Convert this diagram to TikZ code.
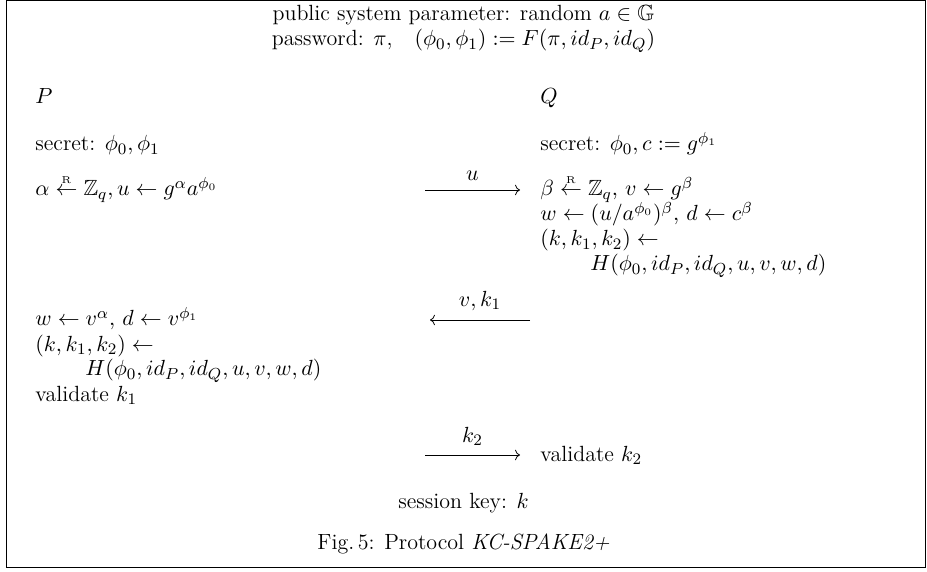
\documentclass[tikz,border=0pt]{standalone}
\usepackage{amsmath,amssymb}
\usepackage{tikz}
\usetikzlibrary{arrows.meta}
\newcommand{\sampleR}{\mathrel{\overset{\scriptscriptstyle\mathrm{R}}{\leftarrow}}}

\begin{document}
\begin{tikzpicture}[x=1pt,y=-1pt,>=To,font=\fontsize{11}{13}\selectfont,
  ln/.style={anchor=base west,inner sep=0pt},
  ctr/.style={anchor=base,inner sep=0pt},
  msg/.style={->,line width=0.4pt}]
\useasboundingbox (0,0) rectangle (463.5,286);
\draw[line width=0.5pt] (3.25,0.25) rectangle (462.5,283.5);
% header
\node[ctr] (pub) at (231.75,10.5) {public system parameter: random $a\in\mathbb{G}$};
\node[ctr] (pw) at (231.75,23) {password: $\pi$,\quad $(\phi_0,\phi_1) := F(\pi, id_P, id_Q)$};
% parties
\node[ln] (P) at (17.5,52) {$P$};
\node[ln] (Q) at (270,52) {$Q$};
\node[ln] (secP) at (17.5,75.5) {secret: $\phi_0,\phi_1$};
\node[ln] (secQ) at (270,75.5) {secret: $\phi_0, c := g^{\phi_1}$};
\node[ln] (p1) at (17.5,98) {$\alpha \sampleR \mathbb{Z}_q, u \leftarrow g^{\alpha}a^{\phi_0}$};
\node[ln] (q1) at (270,98) {$\beta \sampleR \mathbb{Z}_q,\, v \leftarrow g^{\beta}$};
\node[ln] (q2) at (270,110.5) {$w \leftarrow (u/a^{\phi_0})^{\beta},\, d \leftarrow c^{\beta}$};
\node[ln] (q3) at (270,123) {$(k,k_1,k_2) \leftarrow$};
\node[ln] (q4) at (295,135.5) {$H(\phi_0, id_P, id_Q, u, v, w, d)$};
\node[ln] (p2) at (17.5,163) {$w \leftarrow v^{\alpha},\, d \leftarrow v^{\phi_1}$};
\node[ln] (p3) at (17.5,175.5) {$(k,k_1,k_2) \leftarrow$};
\node[ln] (p4) at (42.5,188) {$H(\phi_0, id_P, id_Q, u, v, w, d)$};
\node[ln] (p5) at (17.5,200.5) {validate $k_1$};
\node[ln] (q5) at (270,230.5) {validate $k_2$};
\node[ctr] (skey) at (231.75,254.5) {session key: $k$};
\node[ctr] (cap) at (231.75,274.5) {Fig.\,5: Protocol \textit{KC-SPAKE2+}};
% messages
\coordinate (uA) at (212.5,95); \coordinate (uB) at (260,95);
\coordinate (vA) at (265,160); \coordinate (vB) at (215,160);
\coordinate (kA) at (212.5,227.5); \coordinate (kB) at (260,227.5);
\draw[msg] (uA) -- node[above=1pt] {$u$} (uB);
\draw[msg] (vA) -- node[above=1pt] {$v, k_1$} (vB);
\draw[msg] (kA) -- node[above=1pt] {$k_2$} (kB);
\end{tikzpicture}
\end{document}
